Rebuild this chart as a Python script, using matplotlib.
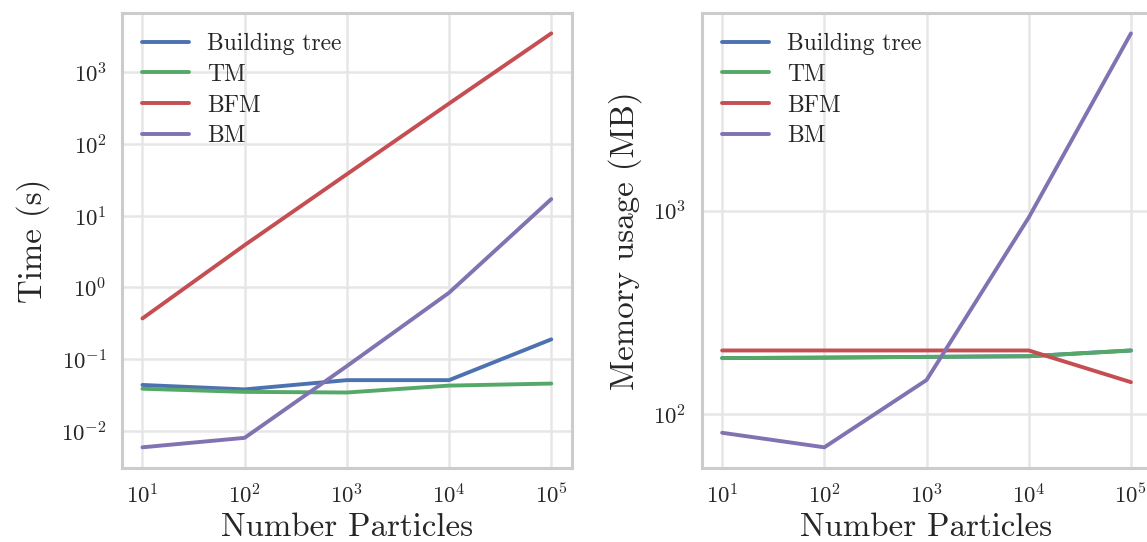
import matplotlib
matplotlib.use("Agg")
import matplotlib.pyplot as plt
import seaborn as sns

# ---- data ----
particles = [1e1, 1e2, 1e3, 1e4, 1e5]
series_names = ["Building tree", "TM", "BFM", "BM"]

time_building_tree = [0.0437, 0.0379, 0.051, 0.051, 0.189]
time_tm = [0.0387, 0.035, 0.0343, 0.0428, 0.0457]
time_bfm = [0.37, 3.9, 38, 368, 3500]
time_bm = [0.0059, 0.0080, 0.080, 0.845, 17.1]

mem_building_tree = [189, 190, 191.6, 193, 206]
mem_tm = [189, 190, 191.6, 193, 206]
mem_bfm = [206, 206, 206, 206, 144]
mem_bm = [81.3, 69, 147.5, 925, 7400]

colors = ["#4C72B0", "#55A868", "#C44E52", "#8172B2"]

sns.set_theme(style="whitegrid")
plt.rcParams.update({
    "font.family": "serif",
    "font.serif": ["cmr10", "DejaVu Serif"],
    "mathtext.fontset": "cm",
    "axes.formatter.use_mathtext": True,
    "axes.edgecolor": "#cccccc",
    "axes.linewidth": 2.2,
    "grid.color": "#e6e6e6",
    "grid.linewidth": 1.8,
    "text.color": "#262626",
    "xtick.color": "#262626",
    "ytick.color": "#262626",
    "axes.labelcolor": "#262626",
    "xtick.major.size": 0,
    "ytick.major.size": 0,
})

W, H = 1147, 542
fig = plt.figure(figsize=(W / 100, H / 100), dpi=100)
ax1 = fig.add_axes([122 / W, (H - 468) / H, 449.7 / W, 455.3 / H])
ax2 = fig.add_axes([701.7 / W, (H - 468) / H, 449.7 / W, 455.3 / H])

time_data = [time_building_tree, time_tm, time_bfm, time_bm]
mem_data = [mem_building_tree, mem_tm, mem_bfm, mem_bm]

for ax, data, ylabel in [(ax1, time_data, "Time (s)"), (ax2, mem_data, "Memory usage (MB)")]:
    for name, vals, c in zip(series_names, data, colors):
        ax.plot(particles, vals, color=c, lw=2.8, label=name)
    ax.set_xscale("log")
    ax.set_yscale("log")
    ax.minorticks_off()
    ax.tick_params(axis="y", labelsize=16.5, pad=11)
    ax.tick_params(axis="x", labelsize=16.5, pad=11)
    ax.set_xlabel("Number Particles", fontsize=23.7, labelpad=4)
    ax.set_ylabel(ylabel, fontsize=23.7, labelpad=8)
    ax.legend(loc="upper left", frameon=False, fontsize=17, handlelength=2.0,
              labelspacing=0.37, handletextpad=0.75, borderaxespad=0.45)
    ax.grid(True, which="major")

fig.savefig("out.png", dpi=100)
